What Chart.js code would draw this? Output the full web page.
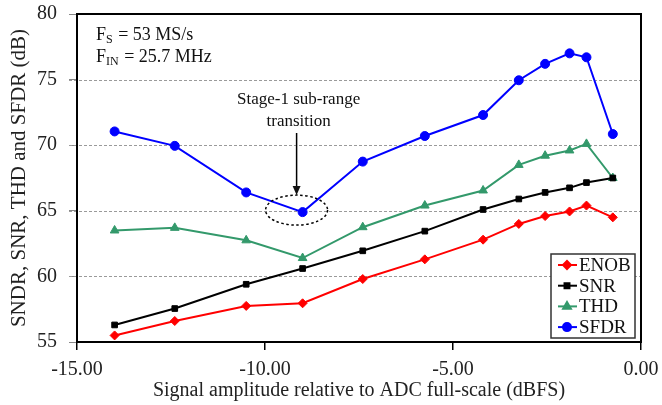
<!DOCTYPE html>
<html>
<head>
<meta charset="utf-8">
<script src="https://cdn.jsdelivr.net/npm/chart.js@4/dist/chart.umd.min.js"></script>
<style>
  html, body { margin: 0; padding: 0; background: #fff; }
  #wrap { width: 662px; height: 405px; }
</style>
</head>
<body>
<div id="wrap"><canvas id="chart"></canvas></div>
<script>
// input amplitude (dBFS)
const amplitude = [-14.0, -12.4, -10.5, -9.0, -7.4, -5.75, -4.2, -3.25, -2.55, -1.9, -1.45, -0.75];

const enob = [55.5, 56.6, 57.75, 57.95, 59.8, 61.3, 62.8, 64.0, 64.6, 64.95, 65.4, 64.5];
const snr  = [56.3, 57.55, 59.4, 60.6, 61.95, 63.45, 65.1, 65.9, 66.4, 66.75, 67.15, 67.5];
const thd  = [63.5, 63.7, 62.75, 61.4, 63.75, 65.4, 66.55, 68.5, 69.2, 69.6, 70.1, 67.5];
const sfdr = [71.05, 69.95, 66.4, 64.9, 68.75, 70.7, 72.3, 74.95, 76.2, 77.0, 76.7, 70.85];

const xTicks = [-15, -10, -5, 0];
const yTicks = [55, 60, 65, 70, 75, 80];

const serif = "'Liberation Serif', 'Times New Roman', serif";
Chart.defaults.font.family = serif;
Chart.defaults.color = '#222';

const toXY = (ys) => ys.map((v, i) => ({ x: amplitude[i], y: v }));

// dashed grid, frame, notes and legend
const extras = {
  id: 'extras',
  beforeDatasetsDraw(chart) {
    const { ctx, chartArea: a, scales: { y } } = chart;
    ctx.save();
    ctx.strokeStyle = '#9a9a9a';
    ctx.lineWidth = 1;
    ctx.setLineDash([3, 2]);
    yTicks.forEach(v => {
      if (v <= y.min || v >= y.max) return;
      const py = Math.round(y.getPixelForValue(v)) + 0.5;
      ctx.beginPath();
      ctx.moveTo(a.left - 8, py);
      ctx.lineTo(a.right, py);
      ctx.stroke();
    });
    ctx.restore();
  },
  afterDatasetsDraw(chart) {
    const { ctx, chartArea: a, scales: { x, y } } = chart;
    ctx.save();

    // frame
    ctx.strokeStyle = '#000';
    ctx.lineWidth = 2;
    ctx.strokeRect(a.left, a.top, a.right - a.left, a.bottom - a.top);

    // Fs / Fin note
    ctx.fillStyle = '#111';
    ctx.textBaseline = 'alphabetic';
    ctx.textAlign = 'left';
    const sub = (tx, ty, main, s, rest) => {
      ctx.font = '18px ' + serif;
      ctx.fillText(main, tx, ty);
      let w = ctx.measureText(main).width;
      ctx.font = '12px ' + serif;
      ctx.fillText(s, tx + w, ty + 3);
      w += ctx.measureText(s).width;
      ctx.font = '18px ' + serif;
      ctx.fillText(rest, tx + w + 1, ty);
    };
    sub(a.left + 19, a.top + 26, 'F', 'S', ' = 53 MS/s');
    sub(a.left + 19, a.top + 48, 'F', 'IN', ' = 25.7 MHz');

    // sub-range transition marker
    const px = x.getPixelForValue(amplitude[3]);
    const py = y.getPixelForValue(sfdr[3]);
    const cx = px - 6, cy = py - 2;
    ctx.textAlign = 'center';
    ctx.font = '17px ' + serif;
    ctx.fillText('Stage-1 sub-range', cx + 2, 104);
    ctx.fillText('transition', cx + 2, 126);
    ctx.lineWidth = 1.5;
    ctx.beginPath();
    ctx.moveTo(cx, 133);
    ctx.lineTo(cx, cy - 20);
    ctx.stroke();
    ctx.beginPath();
    ctx.moveTo(cx, cy - 15);
    ctx.lineTo(cx - 4, cy - 24);
    ctx.lineTo(cx + 4, cy - 24);
    ctx.closePath();
    ctx.fill();
    ctx.setLineDash([2.5, 2.5]);
    ctx.lineWidth = 1.5;
    ctx.beginPath();
    ctx.ellipse(cx, cy, 31, 15, 0, 0, Math.PI * 2);
    ctx.stroke();
    ctx.setLineDash([]);

    // legend
    const lx = 551, ly = 254, lw = 84, lh = 84;
    ctx.fillStyle = '#fff';
    ctx.fillRect(lx, ly, lw, lh);
    ctx.strokeStyle = '#333';
    ctx.lineWidth = 1.5;
    ctx.strokeRect(lx, ly, lw, lh);
    ctx.font = '19px ' + serif;
    ctx.textAlign = 'left';
    ctx.textBaseline = 'middle';
    chart.data.datasets.forEach((ds, i) => {
      const iy = ly + 11 + i * 20.7;
      ctx.strokeStyle = ds.borderColor;
      ctx.lineWidth = 2;
      ctx.beginPath();
      ctx.moveTo(lx + 7, iy);
      ctx.lineTo(lx + 26, iy);
      ctx.stroke();
      ctx.fillStyle = ds.backgroundColor;
      Chart.helpers.drawPoint(ctx, {
        pointStyle: ds.pointStyle, radius: ds.pointRadius - 0.5, borderWidth: 1
      }, lx + 16, iy);
      ctx.fillStyle = '#111';
      ctx.fillText(ds.label, lx + 28, iy + 1);
    });
    ctx.restore();
  }
};

const series = (label, data, color, style, r) => ({
  label, data: toXY(data),
  borderColor: color, backgroundColor: color,
  pointBackgroundColor: color, pointBorderColor: color,
  pointStyle: style, pointRadius: r, pointBorderWidth: 1,
  borderWidth: 2, tension: 0
});

new Chart(document.getElementById('chart'), {
  type: 'line',
  data: {
    datasets: [
      series('ENOB', enob, '#ff0000', 'rectRot', 4.5),
      series('SNR', snr, '#000000', 'rect', 4),
      series('THD', thd, '#33996b', 'triangle', 5),
      series('SFDR', sfdr, '#0000ff', 'circle', 4.5)
    ]
  },
  options: {
    responsive: true,
    maintainAspectRatio: false,
    animation: false,
    layout: { padding: { top: 14, right: 21, left: 0, bottom: 0 } },
    plugins: { legend: { display: false }, tooltip: { enabled: false } },
    scales: {
      x: {
        type: 'linear',
        min: -15, max: 0,
        afterBuildTicks: s => { s.ticks = xTicks.map(v => ({ value: v })); },
        afterFit: s => { s.height = 63; s.paddingLeft = 0; s.paddingRight = 0; },
        ticks: {
          callback: v => v.toFixed(2),
          font: { size: 20 }, color: '#222', padding: 8, maxRotation: 0
        },
        grid: { drawOnChartArea: false, tickLength: 8, color: '#000', lineWidth: 1.5 },
        border: { display: false },
        title: {
          display: true,
          text: 'Signal amplitude relative to ADC full-scale (dBFS)',
          font: { size: 20 }, color: '#222', padding: { top: 0, bottom: 2 }
        }
      },
      y: {
        min: 55, max: 80,
        afterBuildTicks: s => { s.ticks = yTicks.map(v => ({ value: v })); },
        afterFit: s => { s.width = 77; s.paddingTop = 0; s.paddingBottom = 0; },
        ticks: { font: { size: 20 }, color: '#222', padding: 12 },
        grid: { drawOnChartArea: false, tickLength: 8, color: '#888', lineWidth: 1 },
        border: { display: false },
        title: {
          display: true,
          text: 'SNDR, SNR, THD and SFDR (dB)',
          font: { size: 21 }, color: '#222', padding: { top: 7, bottom: 0 }
        }
      }
    }
  },
  plugins: [extras]
});
</script>
</body>
</html>
